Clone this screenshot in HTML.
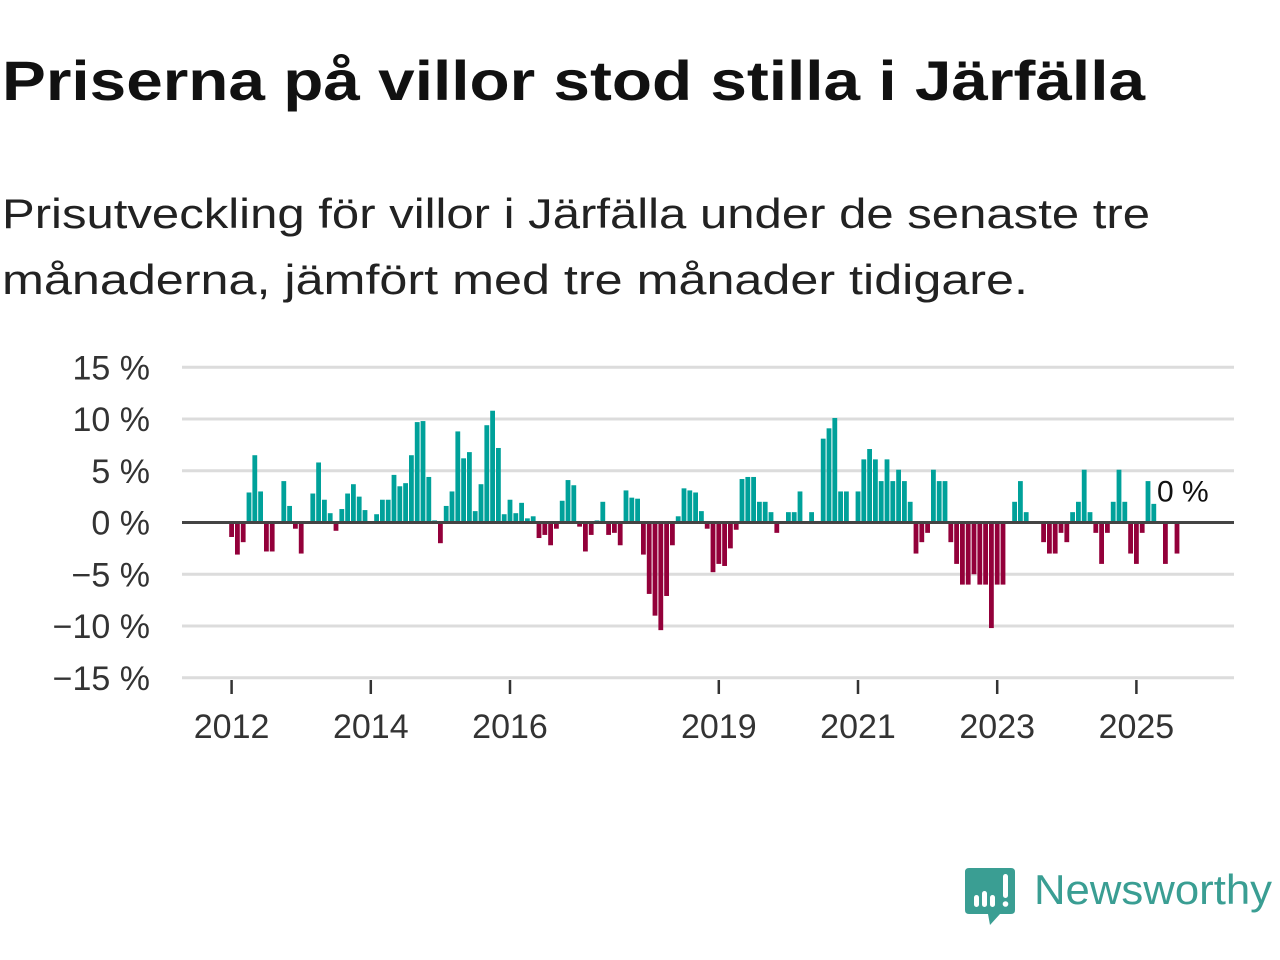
<!DOCTYPE html>
<html><head><meta charset="utf-8"><style>
html,body{margin:0;padding:0;background:#fff;width:1280px;height:960px;overflow:hidden}
svg{display:block;font-family:"Liberation Sans",sans-serif}
</style></head><body>
<svg id="chart" width="1280" height="960" viewBox="0 0 1280 960">
<text x="2" y="100" font-size="56" font-weight="bold" fill="#111" textLength="1143" lengthAdjust="spacingAndGlyphs">Priserna på villor stod stilla i Järfälla</text>
<text x="2" y="228" font-size="42" fill="#222" textLength="1148" lengthAdjust="spacingAndGlyphs">Prisutveckling för villor i Järfälla under de senaste tre</text>
<text x="2" y="294" font-size="42" fill="#222" textLength="1026" lengthAdjust="spacingAndGlyphs">månaderna, jämfört med tre månader tidigare.</text>
<g id="grid"></g><g id="bars"></g><g id="xaxis"></g>
<g>
<path d="M969 868 H1011 Q1015 868 1015 872 V910 Q1015 914 1011 914 H1000 L990 925 L988 914 H969 Q965 914 965 910 V872 Q965 868 969 868 Z" fill="#3a9e93"/>
<rect x="974" y="895" width="5" height="12" rx="2.5" fill="#fff"/>
<rect x="982" y="891" width="5" height="16" rx="2.5" fill="#fff"/>
<rect x="990" y="895" width="5" height="12" rx="2.5" fill="#fff"/>
<rect x="1003" y="874" width="5" height="24" rx="2.5" fill="#fff"/>
<circle cx="1005.5" cy="904" r="2.8" fill="#fff"/>
<text x="1034" y="904" font-size="42" fill="#3a9e93" textLength="238" lengthAdjust="spacingAndGlyphs">Newsworthy</text>
</g>
</svg>
<script>
const yTicks = [15, 10, 5, 0, -5, -10, -15];
const yearLabels = [2012, 2014, 2016, 2019, 2021, 2023, 2025];
const startYear = 2012;
const values = [
-1.4,-3.1,-1.9,2.9,6.5,3.0,-2.8,-2.8,0,4.0,1.6,-0.6,
-3.0,0,2.8,5.8,2.2,0.9,-0.8,1.3,2.8,3.7,2.5,1.2,
0,0.8,2.2,2.2,4.6,3.5,3.8,6.5,9.7,9.8,4.4,0.2,
-2.0,1.6,3.0,8.8,6.2,6.8,1.1,3.7,9.4,10.8,7.2,0.8,
2.2,0.9,1.9,0.4,0.6,-1.5,-1.2,-2.2,-0.6,2.1,4.1,3.6,
-0.4,-2.8,-1.2,0.2,2.0,-1.2,-1.0,-2.2,3.1,2.4,2.3,-3.1,
-6.9,-9.0,-10.4,-7.1,-2.2,0.6,3.3,3.1,2.9,1.1,-0.6,-4.8,
-4.0,-4.2,-2.5,-0.7,4.2,4.4,4.4,2.0,2.0,1.0,-1.0,0,
1.0,1.0,3.0,0,1.0,0,8.1,9.1,10.1,3.0,3.0,0,
3.0,6.1,7.1,6.1,4.0,6.1,4.0,5.1,4.0,2.0,-3.0,-1.9,
-1.0,5.1,4.0,4.0,-1.9,-4.0,-6.0,-6.0,-5.0,-6.0,-6.0,-10.2,
-6.0,-6.0,0,2.0,4.0,1.0,0,0,-1.9,-3.0,-3.0,-1.0,
-1.9,1.0,2.0,5.1,1.0,-1.0,-4.0,-1.0,2.0,5.1,2.0,-3.0,
-4.0,-1.0,4.0,1.8,0,-4.0,0,-3.0,0
];
const NS='http://www.w3.org/2000/svg';
const y0=522.5, pxPer=10.35, x0=231.6, pxMonth=5.8;
const yScale=v=>y0-v*pxPer;
const xScale=i=>x0+i*pxMonth;
const grid=document.getElementById('grid');
yTicks.forEach(t=>{
  if(t!==0){
  const l=document.createElementNS(NS,'line');
  
  
  l.setAttribute('x1',182);l.setAttribute('x2',1234);
  l.setAttribute('y1',yScale(t));l.setAttribute('y2',yScale(t));
  l.setAttribute('stroke','#dcdcdc');l.setAttribute('stroke-width',3);
  grid.appendChild(l);}
  const tx=document.createElementNS(NS,'text');
  
  
  tx.setAttribute('x',150);tx.setAttribute('y',yScale(t)+12);
  tx.setAttribute('text-anchor','end');tx.setAttribute('font-size',34);tx.setAttribute('fill','#333');
  tx.textContent=(t<0?'\u2212'+(-t):t)+' %';
  grid.appendChild(tx);
});
const bars=document.getElementById('bars');
values.forEach((v,i)=>{
  if(v===0)return;
  const r=document.createElementNS(NS,'rect');
  
  
  const x=xScale(i)-2.4;
  r.setAttribute('x',x);r.setAttribute('width',4.8);
  r.setAttribute('y',Math.min(yScale(v),y0));r.setAttribute('height',Math.abs(yScale(v)-y0));
  r.setAttribute('fill',v>0?'#00a19a':'#93003a');
  bars.appendChild(r);
});
const zl=document.createElementNS(NS,'line');


zl.setAttribute('x1',182);zl.setAttribute('x2',1234);zl.setAttribute('y1',y0);zl.setAttribute('y2',y0);
zl.setAttribute('stroke','#444');zl.setAttribute('stroke-width',3);
bars.appendChild(zl);
const last=values.length-1;
const lb=document.createElementNS(NS,'text');


lb.setAttribute('x',xScale(last));lb.setAttribute('y',yScale(values[last])-21);
lb.setAttribute('text-anchor','middle');lb.setAttribute('font-size',30);lb.setAttribute('fill','#111');
lb.setAttribute('stroke','#fff');lb.setAttribute('stroke-width',6);lb.setAttribute('paint-order','stroke');
lb.textContent=values[last]+' %';
bars.appendChild(lb);
const xa=document.getElementById('xaxis');
yearLabels.forEach(y=>{
  const x=xScale((y-startYear)*12);
  const t=document.createElementNS(NS,'line');
  
  
  t.setAttribute('x1',x);t.setAttribute('x2',x);t.setAttribute('y1',680);t.setAttribute('y2',694);
  t.setAttribute('stroke','#333');t.setAttribute('stroke-width',2.5);
  xa.appendChild(t);
  const tx=document.createElementNS(NS,'text');
  
  
  tx.setAttribute('x',x);tx.setAttribute('y',738);tx.setAttribute('text-anchor','middle');
  tx.setAttribute('font-size',34);tx.setAttribute('fill','#333');
  tx.textContent=y;
  xa.appendChild(tx);
});
</script>
</body></html>
